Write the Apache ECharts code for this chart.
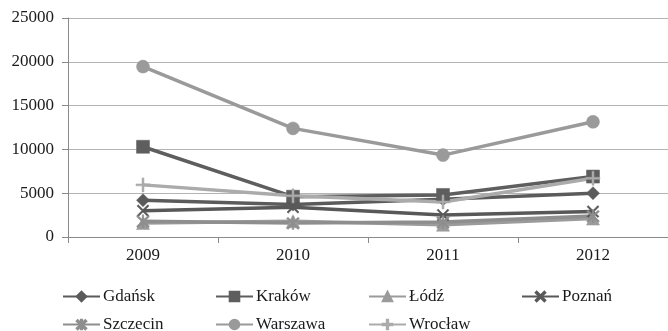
<!DOCTYPE html>
<html>
<head>
<meta charset="utf-8">
<script src="https://cdn.jsdelivr.net/npm/echarts@6/dist/echarts.min.js"></script>
<style>
  html, body { margin: 0; padding: 0; background: #fff; }
  #chart { width: 668px; height: 331px; }
</style>
</head>
<body>
<div id="chart"></div>
<script>
// Years on the category axis
const years = ['2009', '2010', '2011', '2012'];

// Values per city
const gdansk   = [4200, 3700, 4300, 5000];
const krakow   = [10300, 4600, 4800, 6900];
const lodz     = [1600, 1800, 1400, 2100];
const poznan   = [3000, 3400, 2500, 2900];
const szczecin = [1800, 1600, 1700, 2400];
const warszawa = [19450, 12400, 9350, 13150];
const wroclaw  = [5950, 4700, 4000, 6700];

// Value-axis ticks
const yTicks = [0, 5000, 10000, 15000, 20000, 25000];

const FONT = 'Liberation Serif';

// Marker shapes
const X_PATH = 'path://M0,1L1,0L5,4L9,0L10,1L6,5L10,9L9,10L5,6L1,10L0,9L4,5Z';
const STAR_PATH = 'path://M0,1.6L1.1,0.5L5,4.2L8.9,0.5L10,1.6L6,5.2L10,8.9L8.9,10L5,6.3L1.1,10L0,8.9L4,5.2Z' +
                  'M4.4,0L5.6,0L5.6,10L4.4,10Z';
const PLUS_PATH = 'path://M4.3,0H5.7V4.3H10V5.7H5.7V10H4.3V5.7H0V4.3H4.3Z';

const seriesDefs = [
  { name: 'Gdańsk',   data: gdansk,   color: '#5b5b5b', symbol: 'diamond',  size: 13 },
  { name: 'Kraków',   data: krakow,   color: '#5e5e5e', symbol: 'rect',     size: 13 },
  { name: 'Łódź',     data: lodz,     color: '#9b9b9b', symbol: 'triangle', size: 13 },
  { name: 'Poznań',   data: poznan,   color: '#585858', symbol: X_PATH,     size: 12 },
  { name: 'Szczecin', data: szczecin, color: '#8e8e8e', symbol: STAR_PATH,  size: 13 },
  { name: 'Warszawa', data: warszawa, color: '#9a9a9a', symbol: 'circle',   size: 13 },
  { name: 'Wrocław',  data: wroclaw,  color: '#ababab', symbol: PLUS_PATH,  size: 14 }
];

// Legend slots: column line-starts and row tops
const legendCols = [62, 215, 368, 521];
const legendRows = [288, 316];

const chart = echarts.init(document.getElementById('chart'), null, { renderer: 'canvas' });

const legends = seriesDefs.map((s, i) => ({
  data: [s.name],
  left: legendCols[i % 4],
  top: legendRows[Math.floor(i / 4)],
  padding: 0,
  itemWidth: 37,
  itemHeight: 12,
  itemGap: 0,
  selectedMode: false,
  textStyle: { fontFamily: FONT, fontSize: 17, color: '#1a1a1a', padding: [0, 0, 0, -2] }
}));

chart.setOption({
  animation: false,
  backgroundColor: '#ffffff',
  // plot area runs a little past the right edge of the canvas
  grid: { left: 68, width: 607, top: 18, height: 219, containLabel: false },
  legend: legends,
  xAxis: {
    type: 'category',
    data: years,
    boundaryGap: true,
    axisLine: { lineStyle: { color: '#8a8a8a', width: 1 } },
    axisTick: { show: true, length: 6, lineStyle: { color: '#8a8a8a' } },
    axisLabel: { fontFamily: FONT, fontSize: 17, color: '#1a1a1a', margin: 10 },
    splitLine: { show: false }
  },
  yAxis: {
    type: 'value',
    min: yTicks[0],
    max: yTicks[yTicks.length - 1],
    interval: yTicks[1] - yTicks[0],
    axisLine: { show: true, lineStyle: { color: '#8a8a8a', width: 1 } },
    axisTick: { show: true, length: 6, lineStyle: { color: '#8a8a8a' } },
    axisLabel: {
      fontFamily: FONT, fontSize: 17, color: '#1a1a1a', margin: 14,
      formatter: v => String(v)
    },
    splitLine: { show: true, lineStyle: { color: '#b4b4b4', width: 1 } }
  },
  series: seriesDefs.map(s => ({
    name: s.name,
    type: 'line',
    data: s.data,
    symbol: s.symbol,
    symbolSize: s.size,
    showAllSymbol: true,
    lineStyle: { color: s.color, width: 3.5 },
    itemStyle: { color: s.color, borderColor: s.color, borderWidth: 0.5 },
    emphasis: { disabled: true }
  }))
});
</script>
</body>
</html>
